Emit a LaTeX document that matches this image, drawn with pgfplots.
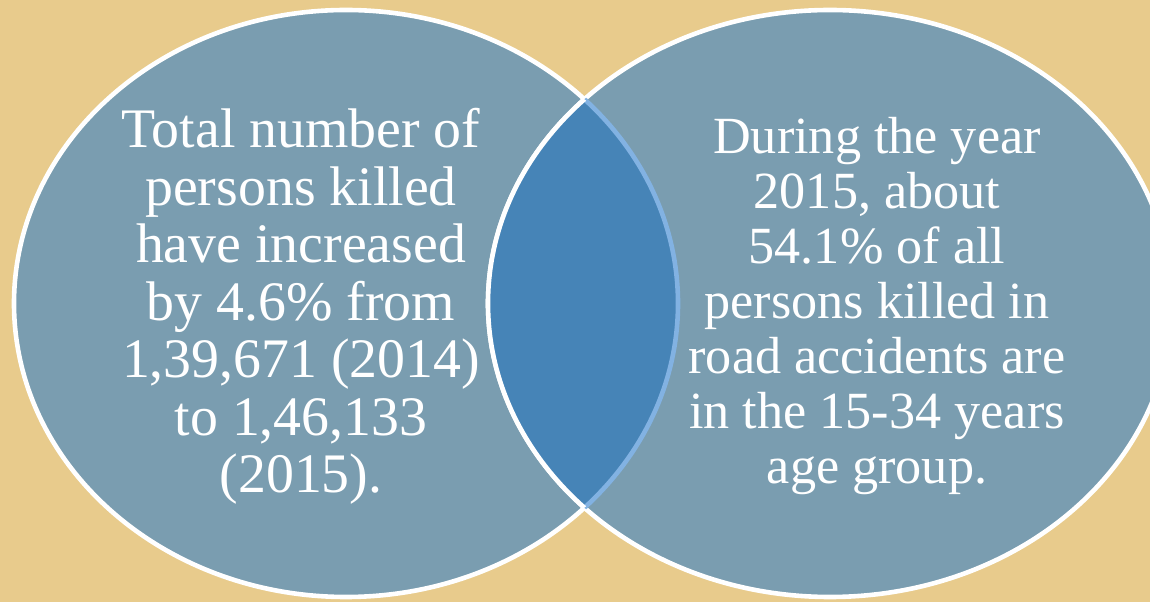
\documentclass[border=0pt]{standalone}
\usepackage{pgfplots}
\pgfplotsset{compat=1.18}
\usepackage{fontspec}
\setmainfont{Liberation Serif}
\definecolor{bgtan}{RGB}{232,203,140}
\definecolor{circfill}{RGB}{122,157,176}
\definecolor{lensfill}{RGB}{70,132,183}
\definecolor{lensedge}{RGB}{130,178,226}
\newcommand{\lfont}{\fontsize{28}{28.75}\selectfont}
\newcommand{\rfont}{\fontsize{26.2}{27.5}\selectfont}
\begin{document}
\begin{tikzpicture}
\path[use as bounding box] (0,0) rectangle (575bp,301bp);
\begin{axis}[
  at={(0,0)}, anchor=south west,
  width=575bp, height=301bp, scale only axis,
  xmin=0, xmax=1150, ymin=0, ymax=602,
  axis lines=none, clip=true,
]
% background
\fill[bgtan] (axis cs:0,0) rectangle (axis cs:1150,602);
% left ellipse (centre 346,298.5; radii 332, 293.5)
\fill[circfill] (axis cs:346,298.5) ellipse [x radius=332, y radius=293.5];
\draw[white, line width=2.3bp] (axis cs:346,298.5) ellipse [x radius=332, y radius=293.5];
% right ellipse (centre 830,298.5; radii 342, 293.5)
\fill[circfill] (axis cs:830,298.5) ellipse [x radius=342, y radius=293.5];
\draw[white, line width=2.3bp] (axis cs:830,298.5) ellipse [x radius=342, y radius=293.5];
% lens
\begin{scope}
  \clip (axis cs:830,298.5) ellipse [x radius=342, y radius=293.5];
  \fill[lensfill] (axis cs:346,298.5) ellipse [x radius=332, y radius=293.5];
  \draw[lensedge, line width=2.3bp] (axis cs:346,298.5) ellipse [x radius=332, y radius=293.5];
\end{scope}
\begin{scope}
  \clip (axis cs:346,298.5) ellipse [x radius=332, y radius=293.5];
  \draw[white, line width=2.3bp] (axis cs:830,298.5) ellipse [x radius=342, y radius=293.5];
\end{scope}
% left text
\node[anchor=base, text=white, font=\lfont, inner sep=0pt] at (axis cs:301,454) {Total number of};
\node[anchor=base, text=white, font=\lfont, inner sep=0pt] at (axis cs:301,396.5) {persons killed};
\node[anchor=base, text=white, font=\lfont, inner sep=0pt] at (axis cs:301,339) {have increased};
\node[anchor=base, text=white, font=\lfont, inner sep=0pt] at (axis cs:301,281.5) {by 4.6\% from};
\node[anchor=base, text=white, font=\lfont, inner sep=0pt] at (axis cs:301,224) {1,39,671 (2014)};
\node[anchor=base, text=white, font=\lfont, inner sep=0pt] at (axis cs:301,166.5) {to 1,46,133};
\node[anchor=base, text=white, font=\lfont, inner sep=0pt] at (axis cs:301,109) {(2015).};
% right text
\node[anchor=base, text=white, font=\rfont, inner sep=0pt] at (axis cs:877,448) {During the year};
\node[anchor=base, text=white, font=\rfont, inner sep=0pt] at (axis cs:877,393) {2015, about};
\node[anchor=base, text=white, font=\rfont, inner sep=0pt] at (axis cs:877,338) {54.1\% of all};
\node[anchor=base, text=white, font=\rfont, inner sep=0pt] at (axis cs:877,283) {persons killed in};
\node[anchor=base, text=white, font=\rfont, inner sep=0pt] at (axis cs:877,228) {road accidents are};
\node[anchor=base, text=white, font=\rfont, inner sep=0pt] at (axis cs:877,173) {in the 15-34 years};
\node[anchor=base, text=white, font=\rfont, inner sep=0pt] at (axis cs:877,118) {age group.};
\end{axis}
\end{tikzpicture}
\end{document}
